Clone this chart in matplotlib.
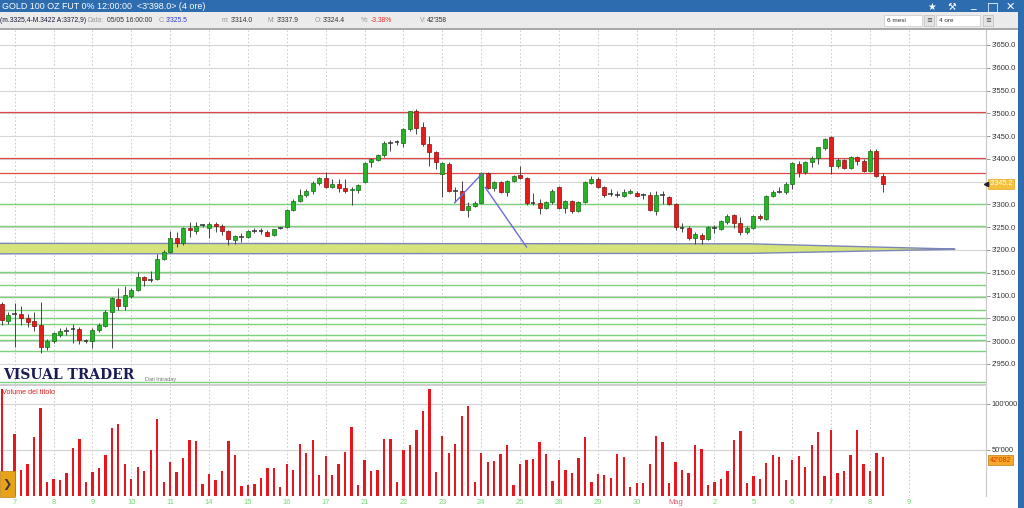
import matplotlib
matplotlib.use('Agg')
import matplotlib.pyplot as plt
from matplotlib.patches import Rectangle, Polygon
import numpy as np

# ---------------- DATA ----------------
opens = [3082.4, 3044.5, 3058.3, 3060.5, 3049.6, 3043.8, 3034.3, 2986.1, 2999.2, 3013.8,
         3021.9, 3025.5, 3027.0, 3001.4, 2999.2, 3024.1, 3033.5, 3064.9, 3091.9, 3078.0,
         3099.2, 3111.6, 3140.8, 3134.2, 3135.7, 3180.2, 3195.5, 3226.9, 3215.9, 3248.0,
         3241.5, 3253.9, 3248.8, 3257.5, 3251.7, 3240.7, 3222.4, 3226.8, 3227.5, 3241.4,
         3242.9, 3239.2, 3231.9, 3247.2, 3250.2, 3288.1, 3307.8, 3321.0, 3330.4, 3346.5,
         3358.9, 3337.7, 3344.3, 3336.2, 3331.9, 3332.6, 3348.6, 3392.4, 3398.3, 3407.7,
         3434.7, 3435.5, 3435.5, 3464.7, 3504.1, 3469.0, 3432.6, 3414.3, 3366.9, 3388.8,
         3329.0, 3329.0, 3288.8, 3295.4, 3302.7, 3368.4, 3335.5, 3348.7, 3326.8, 3350.9,
         3364.0, 3358.2, 3302.7, 3303.4, 3292.5, 3304.9, 3337.7, 3292.5, 3307.1, 3285.2,
         3304.9, 3347.2, 3356.0, 3339.2, 3321.7, 3322.4, 3319.5, 3325.3, 3325.3, 3321.7,
         3321.7, 3285.2, 3321.0, 3317.3, 3301.3, 3250.2, 3247.5, 3226.9, 3233.4, 3223.2,
         3250.2, 3246.6, 3261.2, 3275.8, 3259.0, 3239.3, 3248.0, 3274.3, 3268.5, 3319.5,
         3326.8, 3326.8, 3345.1, 3388.9, 3370.6, 3392.5, 3401.3, 3423.1, 3448.7, 3383.7,
         3397.6, 3379.4, 3403.5, 3396.1, 3374.3, 3416.6, 3363.3]
highs = [3086.1, 3064.2, 3084.6, 3076.6, 3060.5, 3063.5, 3086.1, 3003.6, 3020.4, 3027.7,
         3031.4, 3037.2, 3031.4, 3005.1, 3027.7, 3040.1, 3067.8, 3097.0, 3117.4, 3120.4,
         3117.4, 3151.7, 3143.7, 3153.9, 3191.9, 3199.2, 3241.5, 3239.3, 3250.2, 3261.2,
         3261.9, 3257.5, 3261.2, 3261.2, 3257.5, 3244.4, 3233.4, 3237.0, 3244.3, 3248.0,
         3248.7, 3242.9, 3246.5, 3250.9, 3290.3, 3312.2, 3334.1, 3334.1, 3352.3, 3359.6,
         3372.0, 3355.9, 3355.2, 3355.9, 3339.2, 3345.0, 3393.9, 3401.9, 3410.7, 3439.8,
         3442.0, 3442.0, 3467.6, 3505.5, 3509.2, 3480.0, 3450.8, 3418.0, 3393.9, 3392.4,
         3339.2, 3352.3, 3304.9, 3308.5, 3372.0, 3370.6, 3352.3, 3352.3, 3353.8, 3365.5,
         3385.2, 3359.6, 3325.3, 3312.2, 3308.5, 3334.1, 3341.4, 3310.0, 3310.0, 3308.5,
         3350.9, 3363.3, 3359.6, 3341.4, 3334.1, 3330.4, 3334.1, 3334.1, 3329.0, 3325.3,
         3326.8, 3329.0, 3329.0, 3319.5, 3302.7, 3259.0, 3251.7, 3239.3, 3237.1, 3251.7,
         3253.9, 3266.3, 3277.9, 3279.4, 3272.1, 3251.7, 3277.2, 3279.4, 3321.7, 3331.9,
         3337.8, 3348.7, 3392.5, 3394.7, 3396.1, 3407.1, 3426.8, 3445.8, 3450.9, 3401.3,
         3399.8, 3407.1, 3407.1, 3399.8, 3421.7, 3421.7, 3368.4]
lows = [3035.0, 3037.2, 2987.6, 3035.0, 3031.4, 3021.9, 2973.0, 2980.3, 2996.3, 3009.5,
        3013.1, 2994.9, 2992.7, 2996.3, 2983.9, 3020.4, 3031.4, 2983.9, 3067.8, 3067.8,
        3095.6, 3110.1, 3121.1, 3129.8, 3133.5, 3178.7, 3193.3, 3206.5, 3210.1, 3228.3,
        3235.6, 3250.2, 3226.9, 3239.3, 3233.5, 3210.1, 3213.7, 3217.3, 3226.8, 3237.0,
        3235.6, 3229.7, 3230.5, 3245.8, 3248.7, 3286.6, 3304.9, 3317.3, 3323.1, 3343.5,
        3336.2, 3336.2, 3328.2, 3325.3, 3297.6, 3324.6, 3346.5, 3382.9, 3394.6, 3404.8,
        3418.0, 3430.4, 3425.3, 3461.7, 3454.4, 3428.9, 3385.1, 3377.8, 3315.8, 3326.8,
        3304.9, 3286.7, 3272.1, 3293.9, 3301.3, 3334.1, 3330.4, 3324.6, 3319.5, 3348.7,
        3356.0, 3299.1, 3299.1, 3277.9, 3290.3, 3301.3, 3290.3, 3280.8, 3280.8, 3283.0,
        3302.7, 3345.0, 3336.3, 3315.8, 3319.5, 3317.3, 3317.3, 3323.1, 3317.3, 3312.2,
        3285.2, 3275.7, 3301.3, 3297.6, 3242.9, 3239.2, 3221.0, 3212.3, 3213.8, 3221.0,
        3237.1, 3244.4, 3256.1, 3248.8, 3232.0, 3234.2, 3246.6, 3266.3, 3266.3, 3317.3,
        3324.6, 3323.2, 3334.1, 3359.7, 3367.0, 3381.6, 3388.9, 3419.5, 3367.0, 3380.1,
        3377.2, 3377.2, 3387.4, 3370.6, 3372.1, 3361.1, 3326.8]
closes = [3045.9, 3058.3, 3060.5, 3049.6, 3042.3, 3033.5, 2986.1, 2999.9, 3016.8, 3021.9,
          3023.3, 3027.0, 3002.2, 2999.9, 3024.1, 3035.0, 3064.2, 3094.8, 3077.3, 3102.1,
          3111.6, 3140.8, 3133.5, 3135.7, 3180.9, 3195.5, 3226.9, 3215.9, 3248.0, 3242.9,
          3253.2, 3255.3, 3257.5, 3251.7, 3240.7, 3224.7, 3230.4, 3228.3, 3240.7, 3242.9,
          3241.4, 3231.2, 3245.0, 3249.4, 3288.1, 3308.5, 3320.2, 3330.4, 3346.5, 3358.1,
          3339.2, 3345.0, 3336.2, 3328.9, 3334.8, 3342.8, 3391.7, 3399.0, 3407.7, 3435.5,
          3436.2, 3436.9, 3464.7, 3504.1, 3466.9, 3432.6, 3414.3, 3393.9, 3390.2, 3329.0,
          3330.4, 3288.8, 3295.4, 3302.7, 3368.4, 3336.3, 3348.7, 3326.8, 3350.9, 3363.3,
          3358.2, 3302.7, 3301.3, 3292.5, 3304.9, 3330.4, 3292.5, 3307.1, 3285.2, 3304.9,
          3348.7, 3356.0, 3339.2, 3321.0, 3323.1, 3321.0, 3326.8, 3329.0, 3319.5, 3321.0,
          3286.7, 3321.0, 3322.4, 3299.8, 3250.2, 3248.0, 3226.8, 3235.6, 3223.2, 3250.2,
          3248.0, 3262.6, 3274.3, 3259.0, 3239.3, 3248.8, 3274.3, 3269.9, 3319.5, 3328.3,
          3329.0, 3345.1, 3391.0, 3370.6, 3392.5, 3401.3, 3425.3, 3443.6, 3383.7, 3397.6,
          3379.4, 3404.9, 3396.1, 3374.3, 3418.0, 3363.3, 3345.2]
volumes = [116000, 20000, 67500, 28500, 34300, 63900, 95300, 15700, 18600, 17500,
           25200, 52200, 62400, 15700, 26300, 29900, 44900, 74100, 78100, 35000,
           18600, 31400, 27700, 49600, 84000, 15700, 37200, 26300, 41200, 60600,
           59900, 13100, 23400, 17500, 27700, 59900, 44200, 10600, 11700, 13100,
           20100, 30300, 29900, 9500, 34300, 28500, 56900, 46400, 60600, 23000,
           43400, 22300, 34300, 47800, 74800, 11700, 39100, 27700, 28500, 62000,
           62000, 15700, 49600, 55800, 71200, 92700, 116000, 26300, 65700, 47100,
           56200, 87200, 97800, 15700, 46400, 36900, 38300, 45300, 55100, 11700,
           35000, 39100, 40200, 59100, 45300, 16400, 39100, 28500, 25200, 41600,
           64200, 15700, 23700, 23000, 20100, 45600, 42300, 10200, 14600, 14600,
           34300, 65700, 59100, 13900, 37200, 28500, 25200, 55100, 51100, 12400,
           15700, 18600, 27000, 61000, 70800, 13900, 21500, 18600, 35800, 44500,
           42300, 17900, 39100, 43100, 31800, 55100, 69700, 21500, 71500, 25200,
           27000, 44900, 71500, 35000, 27700, 47100, 42082]

day_labels = ['7', '8', '9', '10', '11', '14', '15', '16', '17', '21', '22', '23', '24',
              '25', '28', '29', '30', 'Mag', '2', '5', '6', '7', '8', '9']
day_start_bar = [2, 8, 14, 20, 26, 32, 38, 44, 50, 56, 62, 68, 74,
                 80, 86, 92, 98, 104, 110, 116, 122, 128, 134, 140]

red_levels = [3502, 3402, 3368]
green_levels = [3300, 3253, 3152, 3122, 3097, 3068, 3050, 3037.5, 3013, 3003, 2978.5, 2911]
price_ticks = list(range(2950, 3651, 50))
volume_ticks = [50000, 100000]

# yellow channel (bar index, price)
band_top_x = [-1, 115.5, 147.1]
band_top_y = [3214.5, 3213.5, 3202.0]
band_bot_x = [-1, 115.5, 147.1]
band_bot_y = [3191.5, 3192.5, 3201.5]

# blue drawn trend segments (bar index, price)
trend_a_x = [69.9, 74.1]
trend_a_y = [3303.5, 3367.0]
trend_b_x = [74.6, 81.0]
trend_b_y = [3337.7, 3206.4]

last_price = 3345.2
last_volume = 42082

# ---------------- LAYOUT ----------------
W, H = 1024, 508
fig = plt.figure(figsize=(W / 100, H / 100), dpi=100)
fig.patch.set_facecolor('white')


def frac(x0, y0, x1, y1):
    return [x0 / W, 1 - y1 / H, (x1 - x0) / W, (y1 - y0) / H]


def fy(y):
    return 1 - y / H


def fx(x):
    return x / W


FONT = 'Liberation Sans'
SYM = 'DejaVu Sans'
GRID = '#d6d6d6'

# title bar
fig.patches.append(Rectangle((0, fy(12.5)), 1, 12.5 / H, transform=fig.transFigure,
                             facecolor='#2d6cae', edgecolor='none', zorder=0))
fig.text(fx(2), fy(6.5), "GOLD 100 OZ FUT 0% 12:00:00  <3'398.0> (4 ore)", color='white',
         fontsize=6.4, va='center', ha='left', family=FONT)
for xx, sym, fs, yy in [(932, '\u2605', 7, 6.5), (952, '\u2692', 7, 6.5), (973, '_', 8, 4.5),
                        (993, '\u25a1', 9, 6.5), (1010, '\u2715', 8, 6.5)]:
    fig.text(fx(xx), fy(yy), sym, color='white', fontsize=fs, va='center', ha='center', family=SYM)

# info bar
fig.patches.append(Rectangle((0, fy(28)), 1, 15.5 / H, transform=fig.transFigure,
                             facecolor='#ebebeb', edgecolor='none', zorder=0))
fig.patches.append(Rectangle((0, fy(29.5)), 1, 1.5 / H, transform=fig.transFigure,
                             facecolor='#a9a9a9', edgecolor='none', zorder=0))
info = [(0, '(m.3325,4-M.3422 A:3372,9)', '#1a1a3a'), (88, 'Data:', '#9a9a9a'),
        (107, '05/05 16:00:00', '#333333'), (159, 'C:', '#9a9a9a'), (166, "3'325.5", '#2f3fd0'),
        (222, 'm:', '#9a9a9a'), (231, "3'314.0", '#333333'), (268, 'M:', '#9a9a9a'),
        (277, "3'337.9", '#333333'), (315, 'O:', '#9a9a9a'), (323, "3'324.4", '#333333'),
        (361, '%:', '#9a9a9a'), (371, '-3.38%', '#e03030'), (420, 'V:', '#9a9a9a'),
        (427, "42'358", '#333333')]
for xx, s, c in info:
    fig.text(fx(xx), fy(20.5), s, color=c, fontsize=4.9, va='center', ha='left', family=FONT)
# dropdowns
for x0, x1, lab in [(884, 922, '6 mesi'), (936, 980, '4 ore')]:
    fig.patches.append(Rectangle((fx(x0), fy(26)), (x1 - x0) / W, 11 / H, transform=fig.transFigure,
                                 facecolor='white', edgecolor='#c8c8c8', lw=0.5, zorder=1))
    fig.text(fx(x0 + 3), fy(20.5), lab, color='#333333', fontsize=4.6, va='center', ha='left', family=FONT)
for xb in (924, 983):
    fig.patches.append(Rectangle((fx(xb), fy(26)), 10 / W, 11 / H, transform=fig.transFigure,
                                 facecolor='#e4e4e4', edgecolor='#bdbdbd', lw=0.5, zorder=1))
    fig.text(fx(xb + 5), fy(20.5), '\u2261', color='#444', fontsize=5, va='center', ha='center', family=SYM)

# axes
ax = fig.add_axes(frac(0, 30, 986, 384))
axv = fig.add_axes(frac(0, 386, 986, 496))

n = len(closes)
idx = np.arange(n)
XL = (-0.26, 151.9)

for a in (ax, axv):
    a.set_xlim(*XL)
    a.set_facecolor('white')
    for s in ('top', 'left', 'bottom'):
        a.spines[s].set_visible(False)
    a.spines['right'].set_color('#c8c8c8')
    a.spines['right'].set_linewidth(0.8)
    a.yaxis.tick_right()
    a.tick_params(axis='y', length=3, width=0.6, color='#888888', labelsize=5.4,
                  labelcolor='#333333', pad=1)
    for b in day_start_bar:
        a.axvline(b, color='#c4c4c4', lw=0.6, ls=(0, (2, 2.5)), zorder=0)

ax.set_ylim(2905.8, 3682.8)
ax.set_yticks(price_ticks)
# the tick nearest the last price is covered by the last-price marker, as in the platform
price_tick_labels = ['' if abs(v - last_price) < 15 else f"{v:,.1f}".replace(',', "'") for v in price_ticks]
ax.set_yticklabels(price_tick_labels, family=FONT)
ax.set_xticks([])
for v in price_ticks:
    ax.axhline(v, color=GRID, lw=0.8, zorder=0)

# yellow channel
poly = list(zip(band_top_x, band_top_y)) + list(zip(band_bot_x[::-1], band_bot_y[::-1]))
ax.add_patch(Polygon(poly, closed=True, facecolor='#d5e37a', edgecolor='#7c86b8', lw=1.0, zorder=1))

for lv in red_levels:
    ax.axhline(lv, color='#e04848', lw=0.9, zorder=1)
for lv in green_levels:
    ax.axhline(lv, color='#7fd07f', lw=1.0, zorder=1)

# candles
bw = 0.62
for i in range(n):
    o, h, l, c = opens[i], highs[i], lows[i], closes[i]
    ax.vlines(i, l, h, color='#444444', lw=0.7, zorder=3)
    if abs(c - o) < 2.6:
        ax.hlines((o + c) / 2, i - bw / 2 - 0.05, i + bw / 2 + 0.05, color='#333333', lw=1.1, zorder=4)
        continue
    up = c > o
    fc = '#27b327' if up else '#e51c1c'
    ec = '#147014' if up else '#8c1010'
    ax.add_patch(Rectangle((i - bw / 2, min(o, c)), bw, abs(c - o), facecolor=fc, edgecolor=ec,
                           lw=0.5, zorder=4))

ax.plot(trend_a_x, trend_a_y, color='#6b6bdb', lw=1.0, zorder=5)
ax.plot(trend_b_x, trend_b_y, color='#6b6bdb', lw=1.0, zorder=5)

# last price box
ax.annotate(f"{last_price:,.1f}".replace(',', "'"), xy=(1.0, last_price), xycoords=('axes fraction', 'data'),
            xytext=(2.5, 0), textcoords='offset points', fontsize=5.2, color='white', va='center', ha='left',
            family=FONT, bbox=dict(boxstyle='square,pad=0.2', facecolor='#f3c13e', edgecolor='#e0a820', lw=0.5),
            annotation_clip=False, zorder=10)
ax.plot([1.0], [last_price], marker='<', color='#222222', markersize=3.0, transform=ax.get_yaxis_transform(),
        clip_on=False, zorder=11)

# branding
fig.text(fx(3), fy(375), 'VISUAL TRADER', family='DejaVu Serif', fontsize=10, fontweight='bold',
         color='#1c1c55', va='center', ha='left')
fig.text(fx(145), fy(380), 'Dati Intraday', family=FONT, fontsize=4, color='#777777', va='center', ha='left')

# separator
fig.patches.append(Rectangle((0, fy(386)), fx(986), 2 / H, transform=fig.transFigure,
                             facecolor='#cfcfcf', edgecolor='none', zorder=5))

# volume panel
axv.set_ylim(0, 119565)
axv.set_yticks(volume_ticks)
axv.set_yticklabels([f"{v:,}".replace(',', "'") for v in volume_ticks], family=FONT)
for v in volume_ticks:
    axv.axhline(v, color=GRID, lw=0.9, zorder=0)
axv.bar(idx, volumes, width=0.36, color='#e8151d', edgecolor='none', zorder=3)
axv.text(0.002, 0.94, 'Volume del titolo', transform=axv.transAxes, color='#e02020', fontsize=5.2,
         va='center', ha='left', family=FONT, zorder=2)
axv.annotate(f"{last_volume:,}".replace(',', "'"), xy=(1.0, last_volume), xycoords=('axes fraction', 'data'),
             xytext=(2.5, -2), textcoords='offset points', fontsize=5.2, color='#d23a00', va='center', ha='left',
             family=FONT, bbox=dict(boxstyle='square,pad=0.2', facecolor='#f6a82a', edgecolor='#c07a10', lw=0.5),
             annotation_clip=False, zorder=10)

axv.set_xticks(day_start_bar)
axv.set_xticklabels(day_labels)
axv.tick_params(axis='x', length=0, pad=2.2, labelsize=5.4)
for t, lab in zip(axv.get_xticklabels(), day_labels):
    t.set_color('#e06070' if lab == 'Mag' else '#74d874')
    t.set_family(FONT)

# orange button
fig.patches.append(Rectangle((0, fy(497)), fx(15), 26 / H, transform=fig.transFigure,
                             facecolor='#e8a21a', edgecolor='#c08010', lw=0.5, zorder=6))
fig.text(fx(7), fy(484), '\u276F', color='#3a3a3a', fontsize=8, va='center', ha='center', family=SYM,
         zorder=7, fontweight='bold')

# right blue border
fig.patches.append(Rectangle((fx(1018), 0), fx(6), 1, transform=fig.transFigure,
                             facecolor='#2d6cae', edgecolor='none', zorder=8))

fig.savefig('out.png', dpi=100, facecolor='white')
